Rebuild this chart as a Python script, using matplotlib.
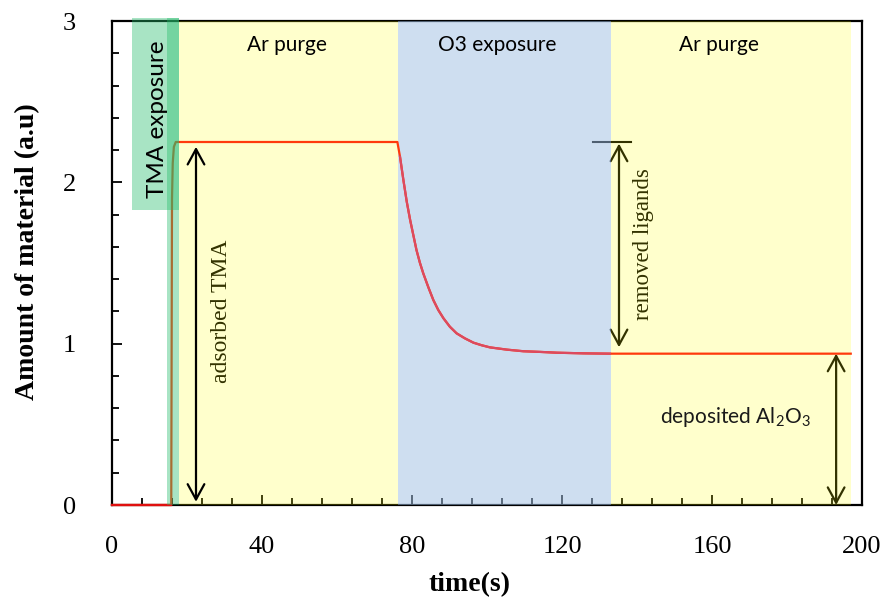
import matplotlib
matplotlib.use("Agg")
import matplotlib.pyplot as plt
from matplotlib.patches import Rectangle
from matplotlib.ticker import MultipleLocator
import numpy as np

# ---- data ----
time_s = [0, 15.8, 16.0, 16.2, 16.5, 17.0, 76.1, 76.8, 77.7, 78.6, 79.5, 80.4,
          81.2, 82.1, 83.0, 84.4, 85.7, 87.0, 88.4, 90.1, 91.9, 94.1, 96.4,
          98.6, 100.8, 105.3, 109.7, 114.1, 118.6, 125.7, 132.8, 197.0]
amount = [0, 0, 1.90, 2.12, 2.22, 2.25, 2.25, 2.159, 2.015, 1.880, 1.767, 1.668,
          1.58, 1.502, 1.436, 1.347, 1.27, 1.209, 1.157, 1.105, 1.064, 1.033,
          1.006, 0.990, 0.977, 0.963, 0.953, 0.949, 0.944, 0.940, 0.938, 0.938]

tma_strip = (14.7, 17.9)
tma_box = (5.3, 17.9, 1.83, 3.02)
ar1 = (17.9, 76.3)
o3 = (76.3, 133.0)
ar2 = (133.0, 197.0)

plateau = 2.25
final_level = 0.938

xticks = [0, 40, 80, 120, 160, 200]
yticks = [0, 1, 2, 3]

serif = "Liberation Serif"
sans = "Lato"

fig = plt.figure(figsize=(8.88, 5.98), dpi=100)
ax = fig.add_axes([112/888, 93/598, 750/888, 484/598])
ax.set_xlim(0, 200)
ax.set_ylim(0, 3)

t = np.array(time_s)
a = np.array(amount)

# curve
ax.plot(t, a, color="#ff3a0c", lw=1.6, zorder=3.5, clip_on=False,
        solid_joinstyle="round")
m0 = t <= tma_strip[0] + 1.2
ax.plot(t[m0], a[m0], color="#e01010", lw=1.6, zorder=3.55, clip_on=False)
m = (t >= o3[0]) & (t <= o3[1])
ax.plot(t[m], a[m], color="#dc4a60", lw=1.6, zorder=3.6, solid_joinstyle="round")

# phases
green = "#26bc6c"
ax.add_patch(Rectangle((tma_strip[0], 0), tma_strip[1]-tma_strip[0], 3.02,
                       facecolor=green, alpha=0.4, lw=0, zorder=3.7, clip_on=False))
ax.add_patch(Rectangle((tma_box[0], tma_box[2]), tma_box[1]-tma_box[0],
                       tma_box[3]-tma_box[2], facecolor=green, alpha=0.4, lw=0,
                       zorder=3.7, clip_on=False))
ax.axvspan(*ar1, ymin=0, ymax=1, facecolor="#ffff00", alpha=0.2, lw=0, zorder=3)
ax.axvspan(*ar2, ymin=0, ymax=1, facecolor="#ffff00", alpha=0.2, lw=0, zorder=3)
ax.axvspan(*o3, ymin=0, ymax=1, facecolor="#9fbfe3", alpha=0.5, lw=0, zorder=3)

# arrows
def dbl_arrow(x, y0, y1, color, z):
    ax.annotate("", xy=(x, y1), xytext=(x, y0),
                arrowprops=dict(arrowstyle="<->,head_length=1.1,head_width=0.6",
                                mutation_scale=10, lw=1.6, color=color,
                                shrinkA=0, shrinkB=0),
                zorder=z)

dbl_arrow(22.4, 0.02, plateau - 0.03, "black", 5)
dbl_arrow(135.2, final_level + 0.04, plateau - 0.01, "black", 2)
dbl_arrow(193.1, 0.0, final_level, "black", 2)
ax.plot([128.3, 138.4], [plateau, plateau], color="black", lw=1.5, zorder=2)

# texts
ax.text(46.7, 2.85, "Ar purge", family=sans, fontsize=15, ha="center", va="center", zorder=6)
ax.text(102.7, 2.85, "O3 exposure", family=sans, fontsize=15, ha="center", va="center", zorder=6)
ax.text(161.9, 2.85, "Ar purge", family=sans, fontsize=15, ha="center", va="center", zorder=6)
ax.text(12.0, 2.39, "TMA exposure", family=sans, fontsize=17.5, rotation=90,
        ha="center", va="center", zorder=6)
ax.text(166.1, 0.545, r"deposited Al$\mathregular{_2}$O$\mathregular{_3}$", family=sans,
        fontsize=15, ha="center", va="center", zorder=6, color="#1a1a1a")
ax.text(29.3, 1.20, "adsorbed TMA", family=serif, fontsize=17, rotation=90,
        ha="center", va="center", zorder=2, color="black")
ax.text(141.6, 1.62, "removed ligands", family=serif, fontsize=16.5, rotation=90,
        ha="center", va="center", zorder=2, color="black")

# axes styling
ax.set_xticks(xticks)
ax.set_yticks(yticks)
ax.xaxis.set_minor_locator(MultipleLocator(8))
ax.yaxis.set_minor_locator(MultipleLocator(0.2))
ax.tick_params(which="both", direction="in", width=1.3, top=False, right=False)
ax.tick_params(which="major", length=7)
ax.tick_params(which="minor", length=5)
ax.tick_params(axis="x", pad=22)
ax.tick_params(axis="y", pad=26)
for lab in ax.get_xticklabels() + ax.get_yticklabels():
    lab.set_family(serif)
    lab.set_fontsize(19)
for s in ax.spines.values():
    s.set_linewidth(1.6)

ax.set_xlabel("time(s)", family=serif, fontsize=20, fontweight="bold")
ax.set_ylabel("Amount of material (a.u)", family=serif, fontsize=20, fontweight="bold")
ax.xaxis.set_label_coords(0.477, -0.138)
ax.yaxis.set_label_coords(-0.096, 0.523)

fig.savefig("out.png", dpi=100)
